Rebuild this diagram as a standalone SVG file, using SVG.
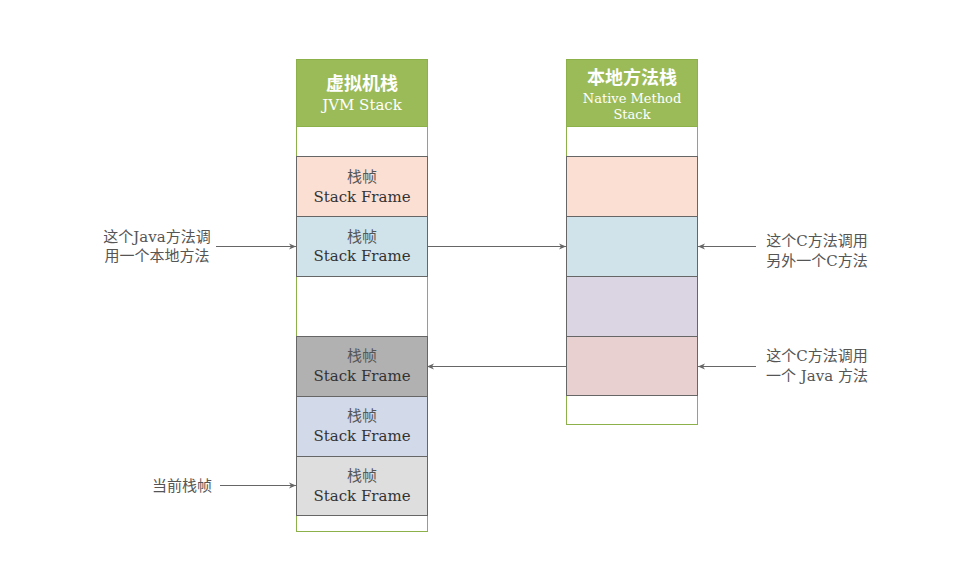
<svg xmlns="http://www.w3.org/2000/svg" width="975" height="571" viewBox="0 0 975 571">
<defs>
<marker id="ah" markerWidth="8" markerHeight="8" refX="7" refY="4" orient="auto" markerUnits="userSpaceOnUse">
<path d="M0,1 L7,4 L0,7 L2,4 Z" fill="#666"/>
</marker>
</defs>
<style>
.col{fill:#fff;stroke:#8cb04a;stroke-width:1}
.hdr{fill:#9bbb59;stroke:#8cb04a;stroke-width:1}
.fr{stroke:#666;stroke-width:1}
.ht{font-family:"Noto Sans CJK SC",sans-serif;font-weight:bold;font-size:18px;fill:#fff;text-anchor:middle}
.hs{font-family:"DejaVu Serif","Noto Sans CJK SC",serif;fill:#fff;text-anchor:middle}
.fc{font-family:"Noto Sans CJK SC",sans-serif;font-size:15px;fill:#555;text-anchor:middle}
.fe{font-family:"DejaVu Serif",serif;font-size:15px;fill:#333;text-anchor:middle}
.lb{font-family:"DejaVu Serif","Noto Sans CJK SC",serif;font-size:15px;fill:#555;text-anchor:middle}
.cn{stroke:#666;stroke-width:1;fill:none;marker-end:url(#ah)}
</style>
<rect width="975" height="571" fill="#fff"/>
<g id="jvm-stack">
<rect class="col" x="296.5" y="59.5" width="131" height="472"/>
<rect class="hdr" x="296.5" y="59.5" width="131" height="67"/>
<text class="ht" x="362" y="90">虚拟机栈</text>
<text class="hs" x="362" y="110" font-size="15">JVM Stack</text>
</g>
<g id="jvm-frame1">
<rect class="fr" x="296.5" y="156.5" width="131" height="60" fill="#fcdfd3"/>
<text class="fc" x="362" y="182">栈帧</text>
<text class="fe" x="362" y="202">Stack Frame</text>
</g>
<g id="jvm-frame2">
<rect class="fr" x="296.5" y="216.5" width="131" height="60" fill="#d1e3ea"/>
<text class="fc" x="362" y="242">栈帧</text>
<text class="fe" x="362" y="261">Stack Frame</text>
</g>
<g id="jvm-frame3">
<rect class="fr" x="296.5" y="336.5" width="131" height="60" fill="#b1b1b1"/>
<text class="fc" x="362" y="361">栈帧</text>
<text class="fe" x="362" y="381">Stack Frame</text>
</g>
<g id="jvm-frame4">
<rect class="fr" x="296.5" y="396.5" width="131" height="60" fill="#d2d9e8"/>
<text class="fc" x="362" y="421">栈帧</text>
<text class="fe" x="362" y="441">Stack Frame</text>
</g>
<g id="jvm-frame5">
<rect class="fr" x="296.5" y="456.5" width="131" height="59" fill="#dedede"/>
<text class="fc" x="362" y="481">栈帧</text>
<text class="fe" x="362" y="501">Stack Frame</text>
</g>
<g id="native-stack">
<rect class="col" x="566.5" y="59.5" width="131" height="365"/>
<rect class="hdr" x="566.5" y="59.5" width="131" height="67"/>
<text class="ht" x="632" y="84">本地方法栈</text>
<text class="hs" x="632" y="103" font-size="13">Native Method</text>
<text class="hs" x="632" y="119" font-size="13">Stack</text>
</g>
<g id="native-frame1"><rect class="fr" x="566.5" y="156.5" width="131" height="60" fill="#fcdfd3"/></g>
<g id="native-frame2"><rect class="fr" x="566.5" y="216.5" width="131" height="60" fill="#d1e3ea"/></g>
<g id="native-frame3"><rect class="fr" x="566.5" y="276.5" width="131" height="60" fill="#dbd5e3"/></g>
<g id="native-frame4"><rect class="fr" x="566.5" y="336.5" width="131" height="59" fill="#e8d0d0"/></g>
<g id="label-java-calls-native">
<text class="lb" x="157" y="242">这个Java方法调</text>
<text class="lb" x="157" y="261">用一个本地方法</text>
</g>
<g id="label-c-calls-c">
<text class="lb" x="817" y="246">这个C方法调用</text>
<text class="lb" x="817" y="266">另外一个C方法</text>
</g>
<g id="label-c-calls-java">
<text class="lb" x="817" y="361">这个C方法调用</text>
<text class="lb" x="817" y="381">一个 Java 方法</text>
</g>
<g id="label-current">
<text class="lb" x="182" y="491">当前栈帧</text>
</g>
<g id="connectors">
<line class="cn" x1="216" y1="246.5" x2="296" y2="246.5"/>
<line class="cn" x1="427" y1="246.5" x2="566" y2="246.5"/>
<line class="cn" x1="756" y1="246.5" x2="698" y2="246.5"/>
<line class="cn" x1="756" y1="366.5" x2="698" y2="366.5"/>
<line class="cn" x1="566" y1="366.5" x2="427" y2="366.5"/>
<line class="cn" x1="220" y1="485.5" x2="296" y2="485.5"/>
</g>
</svg>
